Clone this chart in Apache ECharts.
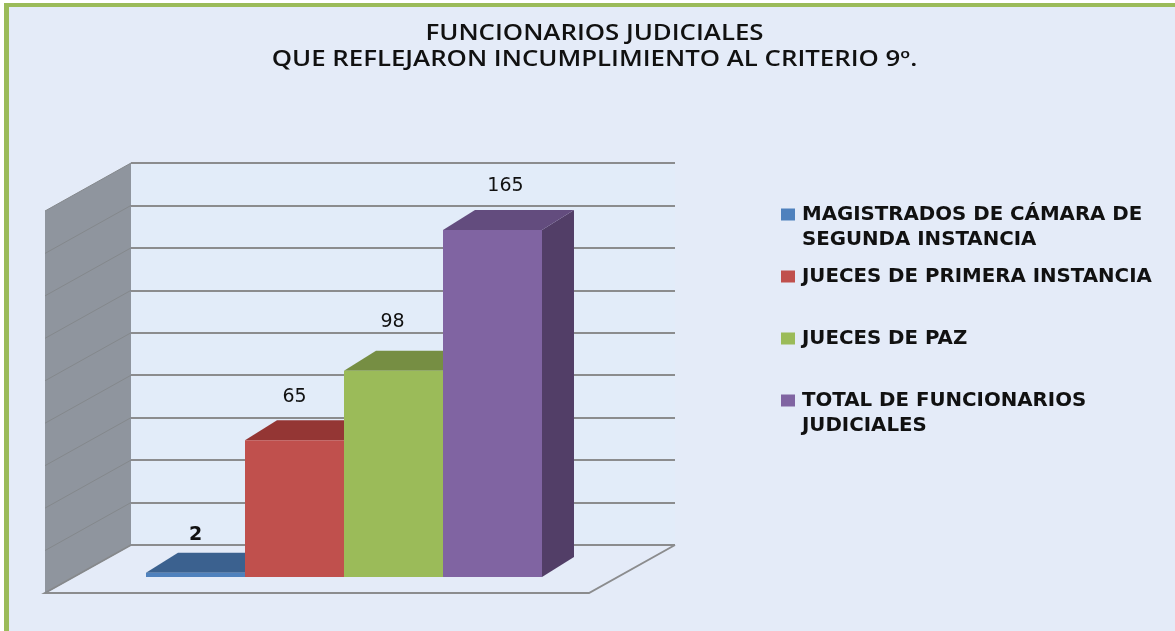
<!DOCTYPE html>
<html><head><meta charset="utf-8">
<style>html,body{margin:0;padding:0;background:#fff}#c{width:1175px;height:631px}</style>
<script src="https://cdn.jsdelivr.net/npm/echarts@6/dist/echarts.min.js"></script>
</head><body><div id="c"></div>
<script>
const categories = ['MAGISTRADOS DE CÁMARA DE SEGUNDA INSTANCIA','JUECES DE PRIMERA INSTANCIA','JUECES DE PAZ','TOTAL DE FUNCIONARIOS JUDICIALES'];
const legendLabels = ['\nMAGISTRADOS DE CÁMARA DE\nSEGUNDA INSTANCIA','\nJUECES DE PRIMERA INSTANCIA\n','\nJUECES DE PAZ\n','\nTOTAL DE FUNCIONARIOS\nJUDICIALES'];
const values = [2,65,98,165];
const wallTicks = [0,20,40,60,80,100,120,140,160,180];
const titleLines = 'FUNCIONARIOS JUDICIALES\nQUE REFLEJARON INCUMPLIMIENTO AL CRITERIO 9º.';

const frontColors = ['#4f81bd','#c0504d','#9bbb59','#8064a2'];
const topColors   = ['#3b618f','#943634','#768e43','#634c7e'];
const sideColors  = ['#345578','#7f2f2d','#667b3a','#523e67'];
const labelNudge  = [[0,-38],[0,-43],[-1,-49],[13,-44]];
const DX = 32, DY = -20;         // bar depth
const WALL_DX = -86, WALL_DY = 48; // left wall, from back to front
const LINE = '#8b8c8e';
const chart = echarts.init(document.getElementById('c'), null, {renderer:'canvas'});

function barItem(i){
  return function(params, api){
    if (api.value(0) !== i) return null;
    const base = api.coord([i,0]), top = api.coord([i,api.value(1)]);
    const w = api.size([1,0])[0];
    const x0 = base[0]-w/2, x1 = base[0]+w/2, y0 = base[1], y1 = top[1];
    return {type:'group', children:[
      {type:'polygon', shape:{points:[[x1,y0],[x1+DX,y0+DY],[x1+DX,y1+DY],[x1,y1]]}, style:{fill:sideColors[i]}},
      {type:'polygon', shape:{points:[[x0,y1],[x0+DX,y1+DY],[x1+DX,y1+DY],[x1,y1]]}, style:{fill:topColors[i]}},
      {type:'rect', shape:{x:x0,y:y1,width:w,height:y0-y1}, style:{fill:frontColors[i]}},
      {type:'text', x:base[0]+labelNudge[i][0], y:y1+labelNudge[i][1], style:{text:String(values[i]), align:'center', verticalAlign:'middle', fill:'#111', font: i===0?'bold 19px "DejaVu Sans"':'19px "DejaVu Sans"'}}
    ]};
  };
}

chart.setOption({
  backgroundColor:'#ffffff',
  animation:false,
  graphic:[
    {type:'rect', z:-10, shape:{x:4,y:3,width:1171,height:628}, style:{fill:'#e4ebf8'}},
    {type:'rect', z:-9, shape:{x:4,y:3,width:1171,height:4}, style:{fill:'#9bbb59'}},
    {type:'rect', z:-9, shape:{x:4,y:3,width:5,height:628}, style:{fill:'#9bbb59'}},
    {type:'text', z:5, x:594.5, y:21, scaleX:1.2, style:{text:titleLines, align:'center', fill:'#111',
      fontFamily:'Open Sans', fontSize:21.5, fontWeight:600, lineHeight:26}}
  ],
  legend:{
    orient:'vertical', left:776, top:172, itemWidth:14, itemHeight:12, itemGap:-13,
    icon:'rect', selectedMode:false,
    data:categories,
    formatter:n=>legendLabels[categories.indexOf(n)],
    textStyle:{fontFamily:'DejaVu Sans', fontSize:19.8, fontWeight:600, color:'#111', lineHeight:25, padding:[0,0,0,2]}
  },
  grid:[
    {left:131, width:544, top:163, height:382, show:true, backgroundColor:'#e2ecf9', borderWidth:0},
    {left:146, width:396, top:198.4, height:378.6}
  ],
  xAxis:[
    {gridIndex:0, type:'value', min:0, max:1, show:false},
    {gridIndex:1, type:'category', data:categories, show:false}
  ],
  yAxis:[
    {gridIndex:0, type:'value', min:0, max:180, interval:20, axisLabel:{show:false}, axisTick:{show:false}, axisLine:{show:false},
      splitLine:{show:true, lineStyle:{color:LINE, width:2}}},
    {gridIndex:1, type:'value', min:0, max:180, interval:20, show:false, splitLine:{show:false}}
  ],
  series:[
    {type:'custom', name:'walls', xAxisIndex:0, yAxisIndex:0, silent:true, z:1, clip:false,
     data:wallTicks.map(v=>[0,v]), legendHoverLink:false,
     renderItem:(p,api)=>{
       const v=api.value(1), a=api.coord([0,v]), bottom=api.coord([0,0]), topC=api.coord([0,180]), right=api.coord([1,0]);
       const kids=[];
       if(p.dataIndex===0){
         kids.push({type:'polygon',shape:{points:[bottom,[bottom[0]+WALL_DX,bottom[1]+WALL_DY],[topC[0]+WALL_DX,topC[1]+WALL_DY],topC]},style:{fill:'#8f959e'}});
         kids.push({type:'polyline',shape:{points:[bottom,[bottom[0]+WALL_DX,bottom[1]+WALL_DY],[right[0]+WALL_DX,right[1]+WALL_DY],right]},style:{fill:'none',stroke:LINE,lineWidth:2}});
       }
       kids.push({type:'line',shape:{x1:a[0],y1:a[1],x2:a[0]+WALL_DX,y2:a[1]+WALL_DY},style:{stroke:'#84888c',lineWidth:1}});
       return {type:'group',children:kids};
     }},
    ...categories.map((name,i)=>({
      type:'custom', name, xAxisIndex:1, yAxisIndex:1, z:2+i, clip:false,
      itemStyle:{color:frontColors[i]},
      data:values.map((v,k)=>[k,v]),
      renderItem:barItem(i)
    }))
  ]
});
</script></body></html>
